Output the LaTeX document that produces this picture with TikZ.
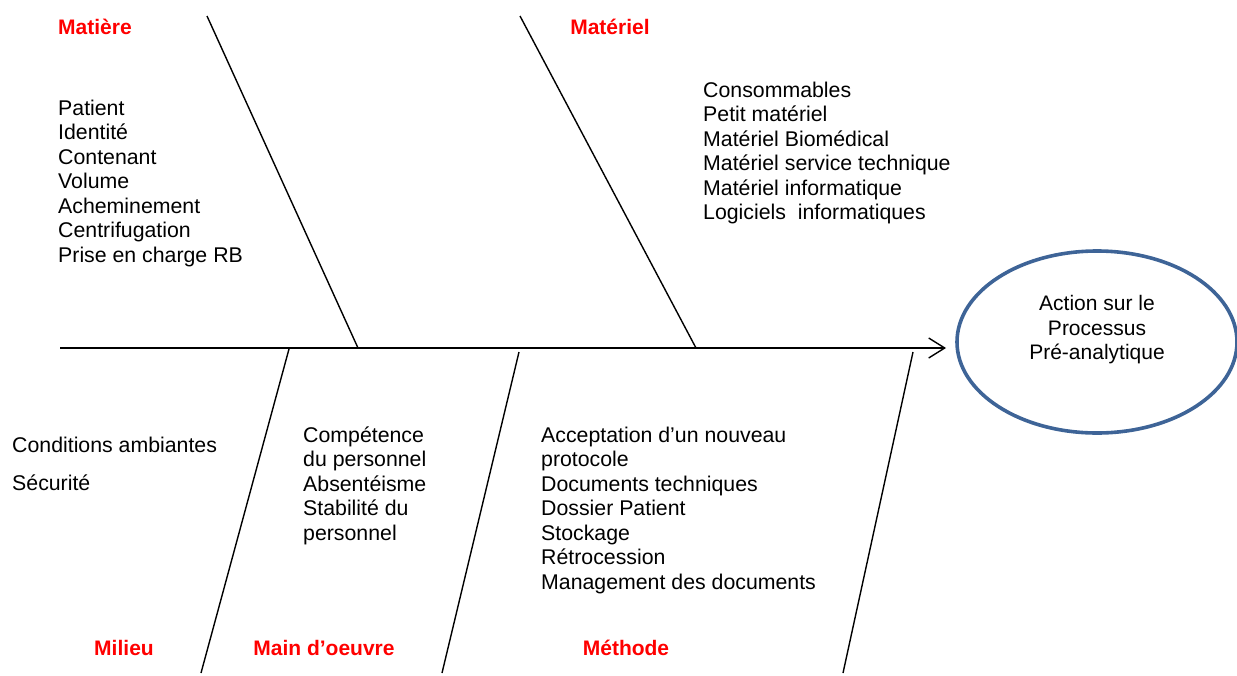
\documentclass[tikz,border=0pt]{standalone}
\usepackage{fontspec}
\setmainfont{Liberation Sans}
\usetikzlibrary{arrows.meta,shapes.geometric}
\definecolor{cause}{HTML}{FF0000}
\definecolor{goalblue}{HTML}{3E6497}
\begin{document}
\begin{tikzpicture}[x=1pt,y=-1pt,
  bone/.style={line width=1.4pt,black},
  item/.style={anchor=base west,inner sep=0pt,font=\fontsize{21.3}{24.5}\selectfont},
  category/.style={anchor=base,inner sep=0pt,text=cause,font=\fontsize{21}{25}\selectfont\bfseries},
  goal/.style={ellipse,draw=goalblue,line width=3.6pt,minimum width=280pt,minimum height=182pt,inner sep=0pt}
]
\useasboundingbox (0,0) rectangle (1237,675);
\clip (0,0) rectangle (1237,675);

% effect
\node[goal] (effect) at (1097,342) {};
\node[align=center,inner sep=0pt,font=\fontsize{21}{24.5}\selectfont] (effecttext) at (1097,330)
  {Action sur le\\Processus\\Pré-analytique};

% spine
\coordinate (spinestart) at (60,348);
\coordinate (spinetip) at (946,348);
\draw[bone,-{Straight Barb[length=16pt,width=20pt]}] (spinestart) -- (spinetip);

% upper bones
\coordinate (b1top) at (207,16);  \coordinate (b1end) at (358,348);
\coordinate (b2top) at (520,16);  \coordinate (b2end) at (696,348);
\draw[bone] (b1top) -- (b1end);
\draw[bone] (b2top) -- (b2end);

% lower bones
\coordinate (b3top) at (289,349); \coordinate (b3end) at (201,673);
\coordinate (b4top) at (519,352); \coordinate (b4end) at (442,673);
\coordinate (b5top) at (913,352); \coordinate (b5end) at (843,673);
\draw[bone] (b3top) -- (b3end);
\draw[bone] (b4top) -- (b4end);
\draw[bone] (b5top) -- (b5end);

% category labels
\node[category] (catmatiere)  at (95,34)   {Matière};
\node[category] (catmateriel) at (610,34)  {Matériel};
\node[category] (catmilieu)   at (124,655) {Milieu};
\node[category] (catmain)     at (324,655) {Main d’oeuvre};
\node[category] (catmethode)  at (626,655) {Méthode};

% causes: Matière
\foreach \t [count=\i from 0] in {Patient,Identité,Contenant,Volume,Acheminement,Centrifugation,Prise en charge RB}
  \node[item] (matiere\i) at (58,115+24.5*\i) {\t};

% causes: Matériel
\foreach \t [count=\i from 0] in {Consommables,Petit matériel,Matériel Biomédical,Matériel service technique,Matériel informatique,Logiciels~ informatiques}
  \node[item] (materiel\i) at (703,97+24.5*\i) {\t};

% causes: Milieu
\node[item] (milieu0) at (12,452) {Conditions ambiantes};
\node[item] (milieu1) at (12,490) {Sécurité};

% causes: Main d'oeuvre
\foreach \t [count=\i from 0] in {Compétence,du personnel,Absentéisme,Stabilité du,personnel}
  \node[item] (main\i) at (303,442+24.5*\i) {\t};

% causes: Méthode
\foreach \t [count=\i from 0] in {Acceptation d’un nouveau,protocole,Documents techniques,Dossier Patient,Stockage,Rétrocession,Management des documents}
  \node[item] (methode\i) at (541,442+24.5*\i) {\t};
\end{tikzpicture}
\end{document}
